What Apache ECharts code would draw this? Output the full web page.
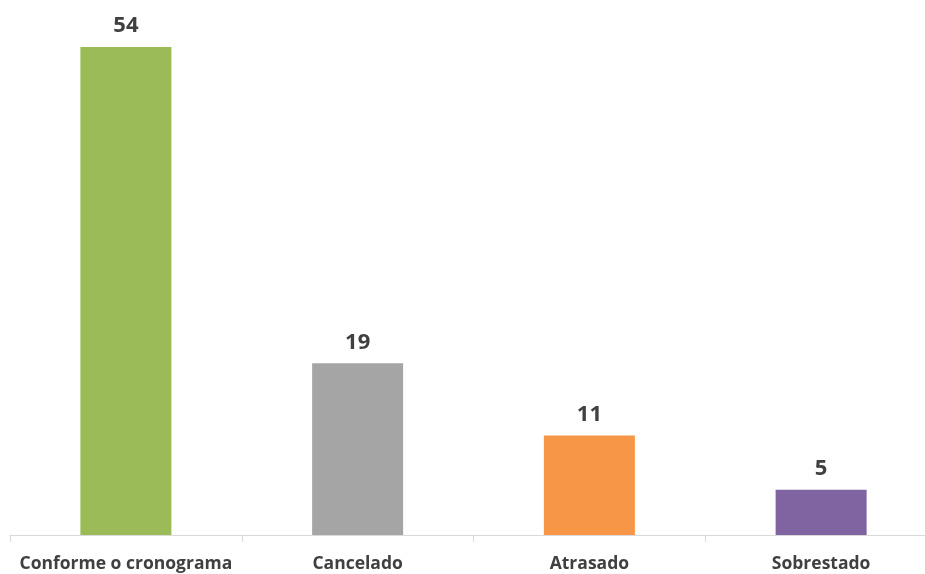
<!DOCTYPE html>
<html><head><meta charset="utf-8">
<script src="https://cdn.jsdelivr.net/npm/echarts@6/dist/echarts.min.js"></script>
<style>html,body{margin:0;padding:0;background:#fff;overflow:hidden}#c{width:937px;height:574px}</style>
</head><body><div id="c"></div>
<script>
const categories = ["Conforme o cronograma", "Cancelado", "Atrasado", "Sobrestado"];
const values = [54, 19, 11, 5];
const colors = ["#9BBB59", "#A5A5A5", "#F79646", "#8064A2"];

const chart = echarts.init(document.getElementById('c'));
chart.setOption({
  animation: false,
  grid: { left: 10, right: 0, top: 47, bottom: 39, containLabel: false },
  xAxis: {
    type: 'category', data: categories,
    axisLine: { lineStyle: { color: '#d9d9d9', width: 1 } },
    axisTick: { show: true, interval: 0, length: 7, lineStyle: { color: '#d9d9d9' } },
    axisLabel: { interval: 0, color: '#404040', fontFamily: 'Open Sans', fontWeight: 'bold', fontSize: 17.5, margin: 20 }
  },
  yAxis: { type: 'value', min: 0, max: 54, show: false, splitLine: { show: false } },
  series: [{
    type: 'bar', barWidth: 91,
    data: values.map((v, i) => ({ value: v, itemStyle: { color: colors[i] } })),
    label: { show: true, position: 'top', distance: 10, color: '#404040', fontFamily: 'Open Sans', fontWeight: 'bold', fontSize: 22 }
  }]
});
</script></body></html>
